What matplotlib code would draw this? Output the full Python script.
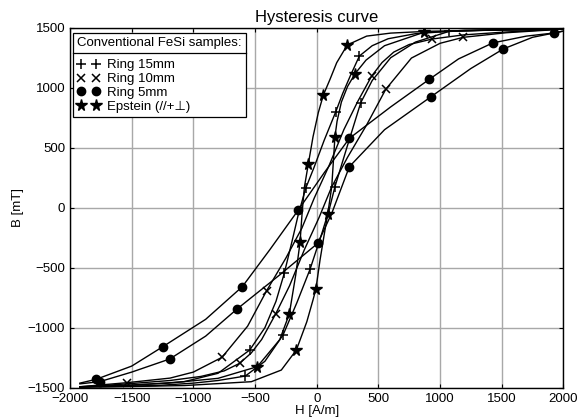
import matplotlib
matplotlib.use('Agg')
import matplotlib.pyplot as plt
from matplotlib.lines import Line2D

plt.rcParams['font.family'] = ['Liberation Sans', 'DejaVu Sans']
plt.rcParams['font.size'] = 9.5

# Ring 15mm (+) : descending and ascending branches, and marker points
plus_desc_H = [2000, 1200, 800, 579, 450, 346, 273, 210, 154, 60, -20, -89, -150, -200, -263, -330, -420, -543, -800, -1075, -1500, -1920]
plus_desc_B = [1489, 1479, 1450, 1408, 1350, 1264, 1100, 950, 798, 560, 340, 162, -60, -280, -547, -780, -1000, -1186, -1380, -1450, -1480, -1492]
plus_asc_H = [-1920, -1300, -1000, -800, -579, -420, -273, -160, -54, 40, 100, 148, 250, 357, 450, 600, 800, 1075, 1500, 2000]
plus_asc_B = [-1495, -1482, -1462, -1440, -1403, -1280, -1061, -790, -513, -220, -20, 175, 520, 875, 1060, 1250, 1380, 1470, 1482, 1489]
plus_mk_H = [346, 154, -89, -263, -543, -579, -273, -54, 148, 357, 1075]
plus_mk_B = [1264, 798, 162, -547, -1186, -1403, -1061, -513, 175, 875, 1470]

# Ring 10mm (x)
x_desc_H = [2000, 1500, 1189, 938, 750, 625, 530, 446, 333, 220, 100, -20, -120, -250, -406, -560, -768, -1000, -1189, -1536, -1920]
x_desc_B = [1490, 1462, 1440, 1406, 1360, 1297, 1210, 1098, 886, 650, 350, 80, -170, -420, -692, -987, -1247, -1370, -1420, -1458, -1492]
x_asc_H = [-1920, -1536, -1189, -938, -750, -625, -530, -446, -333, -220, -100, 20, 120, 250, 406, 560, 768, 1000, 1189, 1536, 2000]
x_asc_B = [-1495, -1468, -1440, -1406, -1360, -1297, -1210, -1098, -886, -650, -350, -80, 170, 420, 692, 987, 1247, 1370, 1420, 1458, 1488]
x_mk_H = [938, 446, -406, -768, -1536, -625, -333, 560, 1189]
x_mk_B = [1406, 1098, -692, -1247, -1458, -1297, -886, 987, 1420]

# Ring 5mm (o)
c_desc_H = [1990, 1925, 1700, 1427, 1150, 913, 600, 265, 60, -149, -380, -603, -900, -1247, -1500, -1788, -1920]
c_desc_B = [1470, 1456, 1430, 1373, 1240, 1070, 840, 578, 290, -19, -350, -658, -930, -1158, -1320, -1430, -1462]
c_asc_H = [-1920, -1760, -1500, -1192, -900, -649, -300, 8, 122, 265, 550, 927, 1250, 1513, 1750, 1925, 1990]
c_asc_B = [-1468, -1450, -1370, -1261, -1070, -847, -560, -297, -47, 342, 650, 925, 1160, 1323, 1420, 1456, 1470]
c_mk_H = [1925, 1427, 913, 265, -149, -603, -1247, -1788, -1760, -1192, -649, 8, 265, 927, 1513]
c_mk_B = [1456, 1373, 1070, 578, -19, -658, -1158, -1430, -1450, -1261, -847, -297, 342, 925, 1323]

# Epstein (*)
s_desc_H = [2000, 1400, 900, 600, 405, 248, 162, 108, 54, 13, -30, -68, -100, -118, -135, -170, -222, -300, -482, -800, -1200, -1600, -1920]
s_desc_B = [1487, 1480, 1470, 1455, 1430, 1356, 1208, 1070, 939, 792, 590, 364, 170, -40, -288, -560, -886, -1100, -1325, -1422, -1462, -1482, -1492]
s_asc_H = [-1920, -1600, -1071, -530, -287, -165, -80, -30, -7, 27, 67, 89, 122, 148, 165, 200, 250, 311, 400, 550, 870, 1400, 2000]
s_asc_B = [-1495, -1492, -1482, -1450, -1353, -1186, -950, -769, -680, -436, -186, -56, 175, 592, 720, 880, 1010, 1117, 1230, 1350, 1462, 1480, 1488]
s_mk_H = [248, 54, -68, -135, -222, -482, -165, -7, 89, 148, 311, 870]
s_mk_B = [1356, 939, 364, -288, -886, -1325, -1186, -680, -56, 592, 1117, 1462]

labels = ['Ring 15mm', 'Ring 10mm', 'Ring 5mm', 'Epstein (//+\u22a5)']

fig = plt.figure(figsize=(5.79, 4.2), dpi=100)
ax = fig.add_axes([70 / 579, 1 - 387.7 / 420, 493.4 / 579, 360 / 420])

curves = [
    (plus_desc_H, plus_desc_B, plus_asc_H, plus_asc_B, plus_mk_H, plus_mk_B, dict(marker='+', ms=6.5, mew=1.1)),
    (x_desc_H, x_desc_B, x_asc_H, x_asc_B, x_mk_H, x_mk_B, dict(marker='x', ms=6, mew=1.1)),
    (c_desc_H, c_desc_B, c_asc_H, c_asc_B, c_mk_H, c_mk_B, dict(marker='o', ms=6)),
    (s_desc_H, s_desc_B, s_asc_H, s_asc_B, s_mk_H, s_mk_B, dict(marker='*', ms=8.5)),
]

handles = []
for dH, dB, aH, aB, mH, mB, mk in curves:
    ax.plot(dH, dB, color='k', lw=1.0, zorder=3)
    ax.plot(aH, aB, color='k', lw=1.0, zorder=3)
    ax.plot(mH, mB, ls='none', color='k', zorder=4, **mk)
    handles.append(Line2D([], [], ls='none', color='k', **mk))

ax.set_xlim(-2000, 2000)
ax.set_ylim(-1500, 1500)
ax.set_xticks(range(-2000, 2001, 500))
ax.set_yticks(range(-1500, 1501, 500))
ax.grid(True, color='#a8a8a8', lw=1.0)
ax.set_axisbelow(True)
ax.tick_params(direction='in', top=True, right=True, length=3, labelsize=9.5, pad=3.5)
for sp in ax.spines.values():
    sp.set_linewidth(1.0)

ax.set_title('Hysteresis curve', fontsize=12, pad=4)
ax.set_xlabel('H [A/m]', fontsize=9.5, labelpad=0)
ax.set_ylabel('B [mT]', fontsize=9.5, labelpad=3)

leg = ax.legend(handles, labels, title='Conventional FeSi samples:', title_fontsize=9.5,
                loc='upper left', bbox_to_anchor=(0.0067, 0.984), borderaxespad=0,
                numpoints=2, handlelength=1.7, handletextpad=0.55, borderpad=0.3,
                labelspacing=0.12, alignment='left', fancybox=False, framealpha=1)
leg.get_frame().set_edgecolor('k')
leg.get_frame().set_linewidth(0.9)
leg._legend_box.sep = 7  # extra room between title and entries for the rule

# separator under the legend title
fig.canvas.draw()
fb = leg.get_frame().get_window_extent()
tb = leg.get_title().get_window_extent()
t0 = leg.get_texts()[0].get_window_extent()
W, Hh = fig.bbox.width, fig.bbox.height
ysep = (tb.y0 + t0.y1) / 2 + 1
fig.add_artist(Line2D([fb.x0 / W, fb.x1 / W], [ysep / Hh, ysep / Hh], color='k', lw=0.9,
                      transform=fig.transFigure, zorder=10))

fig.savefig('out.png', dpi=100)
